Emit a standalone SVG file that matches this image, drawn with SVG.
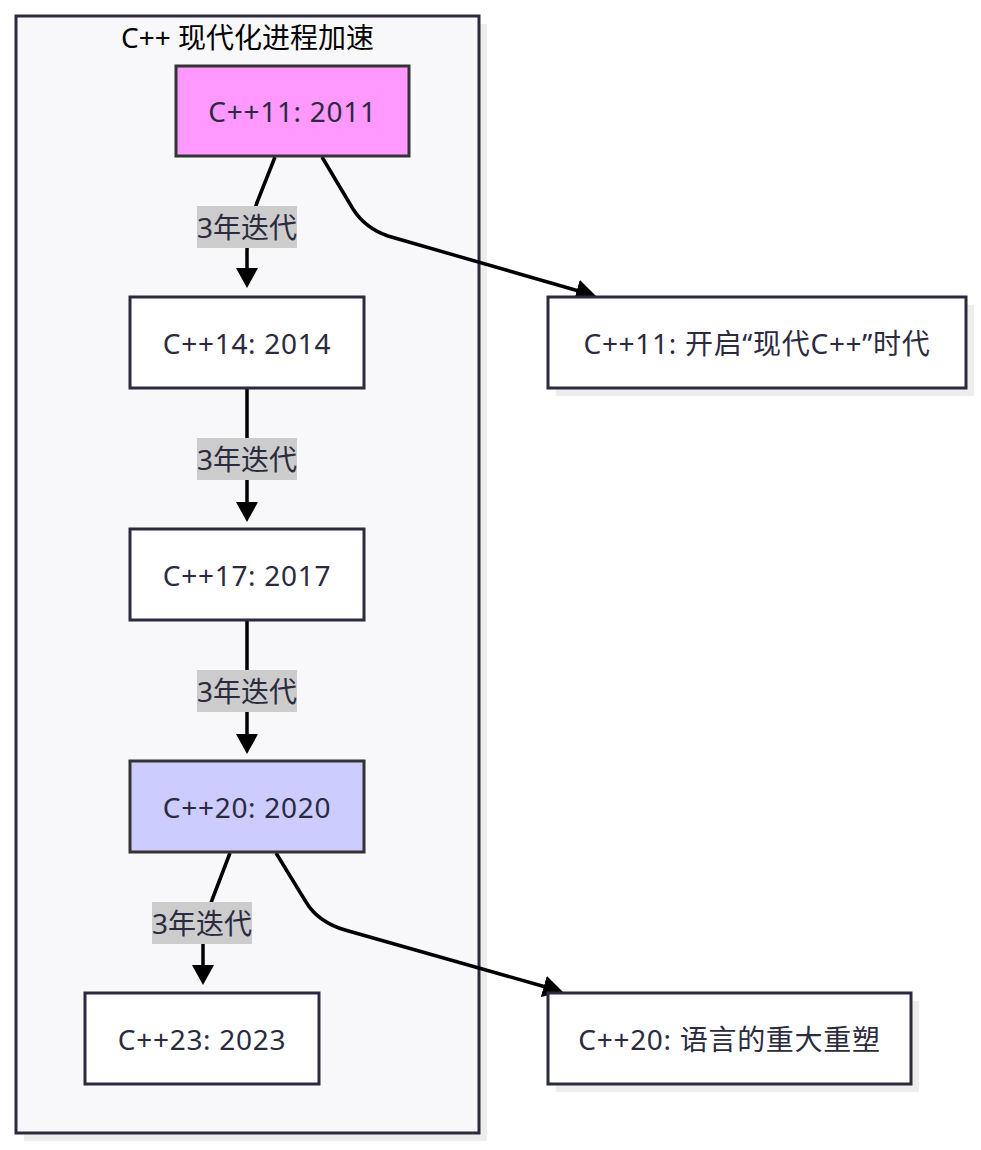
<svg xmlns="http://www.w3.org/2000/svg" width="981" height="1150" viewBox="0 0 981 1150">
<style>
text{font-family:"Noto Sans","Noto Sans CJK SC",sans-serif;font-size:28px;fill:#2b2a3e;text-anchor:middle;dominant-baseline:central}
.title{fill:#000}
.nt{letter-spacing:0.7px}
.node{fill:#fff;stroke:#2b2a3e;stroke-width:3}
.shadow{fill:#ededed}
.edge{fill:none;stroke:#000;stroke-width:3.5}
.lbl{fill:#cccccc}
</style>
<defs>
<marker id="arr" viewBox="0 0 20 22" markerUnits="userSpaceOnUse" markerWidth="20" markerHeight="22" refX="2" refY="11" orient="auto">
<path d="M0,0 L20,11 L0,22 z" fill="#000"/>
</marker>
</defs>
<g id="cluster">
<rect class="shadow" x="24" y="24" width="463" height="1117"/>
<rect x="16" y="16" width="463" height="1117" fill="#f8f8fa" stroke="#2b2a3e" stroke-width="3"/>
<text class="title" x="247.5" y="37">C++ 现代化进程加速</text>
</g>
<g id="edges">
<path class="edge" d="M275,157 L258,200 Q247,228 247,250 L247,270" marker-end="url(#arr)"/>
<path class="edge" d="M322,157 L353,209 Q365,228 388,236 L578.7,291" marker-end="url(#arr)"/>
<path class="edge" d="M247,389 L247,504" marker-end="url(#arr)"/>
<path class="edge" d="M247,621 L247,736" marker-end="url(#arr)"/>
<path class="edge" d="M230,853 L212,900 Q203,925 203,945 L203,967" marker-end="url(#arr)"/>
<path class="edge" d="M276,853 L306,902 Q318,922 345,930 L545.7,987" marker-end="url(#arr)"/>
</g>
<g id="edge-labels">
<rect class="lbl" x="197" y="206" width="100" height="42"/>
<text x="247" y="227">3年迭代</text>
<rect class="lbl" x="197" y="438" width="100" height="42"/>
<text x="247" y="459">3年迭代</text>
<rect class="lbl" x="197" y="670" width="100" height="42"/>
<text x="247" y="691">3年迭代</text>
<rect class="lbl" x="152" y="902" width="100" height="42"/>
<text x="202" y="923">3年迭代</text>
</g>
<g id="n-cpp11">
<rect x="176" y="66" width="233" height="90" fill="#ff99ff" stroke="#333" stroke-width="3"/>
<text class="nt" x="292.5" y="111">C++11: 2011</text>
</g>
<g id="n-cpp14">
<rect class="node" x="130" y="297" width="234" height="91"/>
<text class="nt" x="247" y="343">C++14: 2014</text>
</g>
<g id="n-cpp17">
<rect class="node" x="130" y="529" width="234" height="91"/>
<text class="nt" x="247" y="575">C++17: 2017</text>
</g>
<g id="n-cpp20">
<rect x="130" y="761" width="234" height="91" fill="#ccccff" stroke="#333" stroke-width="3"/>
<text class="nt" x="247" y="807">C++20: 2020</text>
</g>
<g id="n-cpp23">
<rect class="node" x="85" y="993" width="234" height="91"/>
<text class="nt" x="202" y="1039">C++23: 2023</text>
</g>
<g id="n-note11">
<rect class="shadow" x="556" y="305" width="418" height="91"/>
<rect class="node" x="548" y="297" width="418" height="91"/>
<text class="nt" x="757" y="343">C++11: 开启“现代C++”时代</text>
</g>
<g id="n-note20">
<rect class="shadow" x="556" y="1001" width="363" height="91"/>
<rect class="node" x="548" y="993" width="363" height="91"/>
<text class="nt" x="729.5" y="1039">C++20: 语言的重大重塑</text>
</g>
</svg>
